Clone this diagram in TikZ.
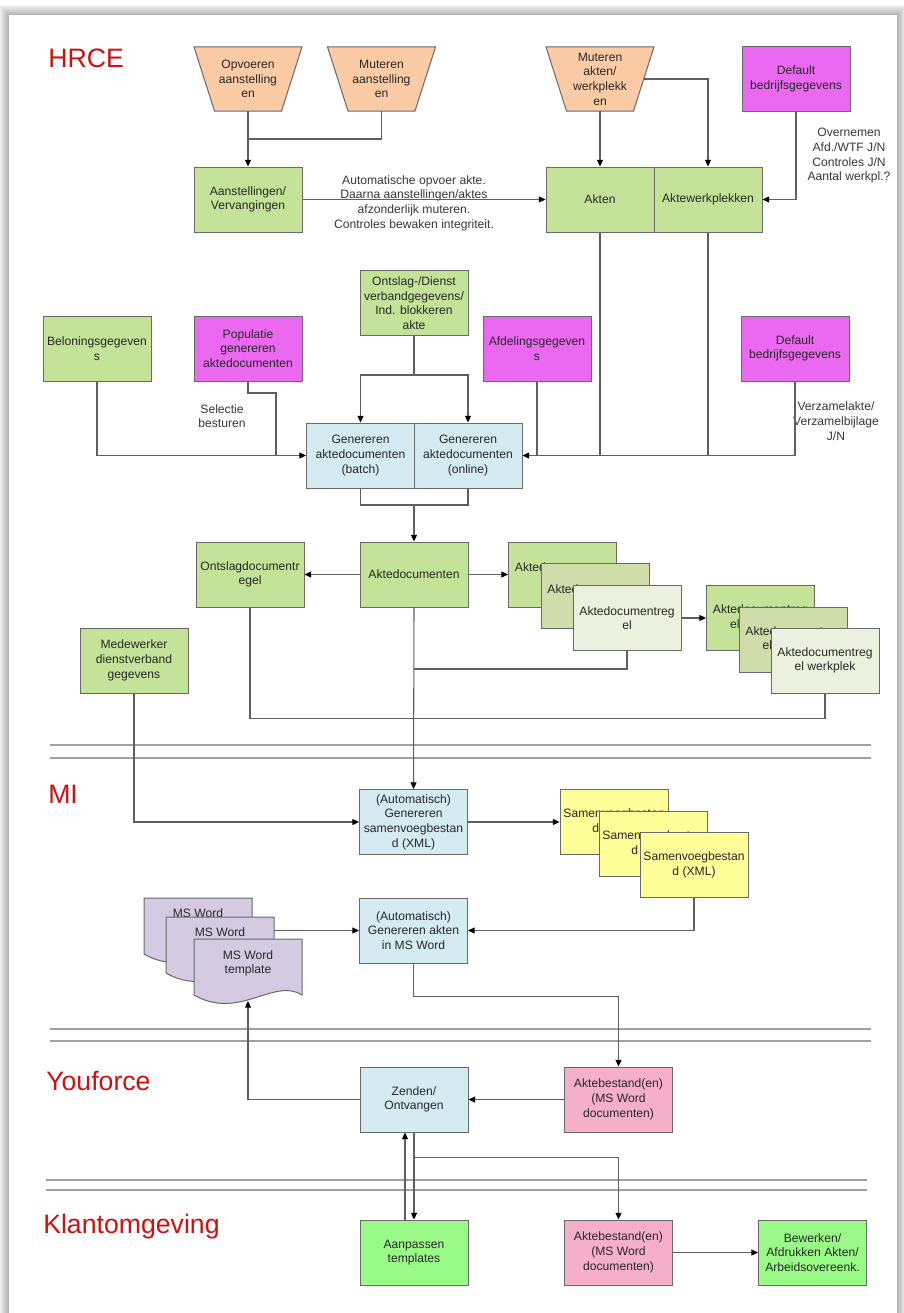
\documentclass[tikz,border=0pt]{standalone}
\usepackage{fontspec}
\setmainfont{Liberation Sans}
\usetikzlibrary{arrows.meta,calc}
\definecolor{cgreen}{RGB}{196,226,152}
\definecolor{cmid}{RGB}{207,221,170}
\definecolor{clight}{RGB}{236,241,223}
\definecolor{cpeach}{RGB}{250,203,165}
\definecolor{cmag}{RGB}{235,105,240}
\definecolor{cblue}{RGB}{212,235,241}
\definecolor{cyel}{RGB}{255,255,153}
\definecolor{clav}{RGB}{212,202,226}
\definecolor{cpink}{RGB}{245,175,200}
\definecolor{cbright}{RGB}{153,250,136}
\definecolor{redc}{RGB}{204,17,17}
\definecolor{bordc}{RGB}{105,105,105}
\definecolor{linec}{RGB}{95,95,95}
\definecolor{sepc}{RGB}{160,160,160}
\definecolor{txtc}{RGB}{40,40,40}
\definecolor{labc}{RGB}{55,55,55}
\newcommand\boxfont{\fontsize{9.1}{11}\selectfont}
\newcommand\trapz[2]{\filldraw[fill=cpeach, draw=bordc, line width=0.75pt] (#1-54,#2-32) -- (#1+54,#2-32) -- (#1+33.5,#2+32) -- (#1-33.5,#2+32) -- cycle;}
\newcommand\docshape[2]{\filldraw[fill=clav, draw=bordc, line width=0.75pt] (#1,#2) -- (#1+108,#2) -- (#1+108,#2+56) .. controls (#1+80,#2+38) and (#1+45,#2+82) .. (#1,#2+56) -- cycle;}
\begin{document}
\begin{tikzpicture}[x=0.75pt,y=-0.75pt,
  box/.style={draw=bordc, line width=0.75pt, minimum width=81pt, minimum height=48.75pt, inner sep=0pt, align=center, font=\boxfont, text=txtc},
  trapn/.style={minimum width=81pt, minimum height=48pt, inner sep=0pt, align=center, font=\boxfont, text=txtc},
  docn/.style={minimum width=81pt, inner sep=0pt, align=center, font=\boxfont, text=txtc},
  conn/.style={draw=linec, line width=0.8pt},
  arr/.style={conn, -{Triangle[length=5pt,width=4.5pt,color=black]}},
  sepline/.style={draw=sepc, line width=1pt},
  elab/.style={font=\boxfont, text=labc, align=center, inner sep=0pt},
  sec/.style={font=\fontsize{20}{24}\selectfont, text=redc, anchor=base west, inner sep=0pt}]
\useasboundingbox (0,0) rectangle (903,1313);
% page and shadow
\fill[white] (0,0) rectangle (903,1313);
\foreach \k in {1,...,10} \fill[black,opacity=0.03] (9-\k,15-\k) rectangle (897+\k,1340);
\fill[white] (9,15) rectangle (897,1340);

% section labels
\node[sec] (hrce) at (48,68) {HRCE};
\node[sec] (mi) at (48,803) {MI};
\node[sec] (yf) at (46,1090) {Youforce};
\node[sec] (kl) at (43,1233) {Klantomgeving};

% separators
\draw[sepline] (50,745) -- (871,745);
\draw[sepline] (50,758) -- (871,758);
\draw[sepline] (50,1029) -- (871,1029);
\draw[sepline] (50,1041) -- (871,1041);
\draw[sepline] (46,1180) -- (867,1180);
\draw[sepline] (46,1190) -- (867,1190);

% top row
\trapz{248}{79}
\node[trapn] (op) at (248,79) {Opvoeren\\aanstelling\\en};
\trapz{381.5}{79}
\node[trapn] (mua) at (381.5,79) {Muteren\\aanstelling\\en};
\trapz{600}{79}
\node[trapn] (mak) at (600,79) {Muteren\\akten/\\werkplekk\\en};
\coordinate (makr) at (643.75,79);
\node[box, fill=cmag] (def1) at (796,79) {Default\\bedrijfsgegevens};

\node[box, fill=cgreen] (aan) at (248,199.5) {Aanstellingen/\\Vervangingen};
\node[box, fill=cgreen] (akt) at (600,199.5) {Akten};
\node[box, fill=cgreen] (awp) at (708,199.5) {Aktewerkplekken};

\node[elab] (lbl1) at (414,203) {Automatische opvoer akte.\\Daarna aanstellingen/aktes\\afzonderlijk muteren.\\Controles bewaken integriteit.};
\node[elab] (lbl2) at (849,156) {Overnemen\\Afd./WTF J/N\\Controles J/N\\Aantal werkpl.?};

\coordinate (j1) at (248,139);
\draw[arr] (op.south) -- (aan.north);
\draw[conn] (mua.south) |- (j1);
\draw[arr] (aan.east) -- (akt.west);
\draw[arr] (mak.south) -- (akt.north);
\draw[arr] (makr) -| (awp.north);
\draw[arr] (def1.south) |- (awp.east);

% second row
\node[box, fill=cgreen] (ond) at (414,303) {Ontslag-/Dienst\\verbandgegevens/\\Ind. blokkeren\\akte};
\node[box, fill=cgreen] (bel) at (97,348.5) {Beloningsgegeven\\s};
\node[box, fill=cmag] (pop) at (248,348.5) {Populatie\\genereren\\aktedocumenten};
\node[box, fill=cmag] (afd) at (537,348.5) {Afdelingsgegeven\\s};
\node[box, fill=cmag] (def2) at (795,348.5) {Default\\bedrijfsgegevens};
\node[box, fill=cblue] (bat) at (360.5,455.5) {Genereren\\aktedocumenten\\(batch)};
\node[box, fill=cblue] (onl) at (468,455.5) {Genereren\\aktedocumenten\\(online)};

\node[elab] (lbl3) at (222,416) {Selectie\\besturen};
\node[elab] (lbl4) at (836,421) {Verzamelakte/\\Verzamelbijlage\\J/N};

\coordinate (j2) at (414,375);
\draw[arr] (ond.south) -- (j2) -| (bat.north);
\draw[arr] (j2) -| (onl.north);
\draw[arr] (bel.south) |- (bat.west);
\coordinate (j3) at (276,393);
\draw[conn] (pop.south) |- (j3) -- (j3 |- bat.west);
\draw[conn] (afd.south) -- (afd.south |- onl.east);
\draw[conn] (akt.south) -- (akt.south |- onl.east);
\draw[conn] (awp.south) -- (awp.south |- onl.east);
\draw[arr] (def2.south) |- (onl.east);

% third row
\node[box, fill=cgreen] (ad) at (414,574.5) {Aktedocumenten};
\node[box, fill=cgreen] (osd) at (250,574.5) {Ontslagdocumentr\\egel};
\node[box, fill=cgreen] (adr1) at (562.5,574.5) {Aktedocumentreg\\el};
\node[box, fill=cmid] (adr2) at (595,596) {Aktedocumentreg\\el};
\node[box, fill=clight] (adr3) at (627,618) {Aktedocumentreg\\el};
\node[box, fill=cgreen] (adw1) at (760.5,618) {Aktedocumentreg\\el werkplek};
\node[box, fill=cmid] (adw2) at (793,639.5) {Aktedocumentreg\\el werkplek};
\node[box, fill=clight] (adw3) at (825,660.5) {Aktedocumentreg\\el werkplek};
\node[box, fill=cgreen] (mdw) at (134,660.5) {Medewerker\\dienstverband\\gegevens};

\coordinate (j4) at (414,505);
\draw[conn] (bat.south) |- (j4);
\draw[conn] (onl.south) |- (j4);
\draw[arr] (j4) -- (ad.north);
\draw[arr] (ad.west) -- (osd.east);
\draw[arr] (ad.east) -- (adr1.west);
\draw[arr] (adr3.east) -- (adw1.west);
\draw[conn] (osd.south) -- ++(0,111) -| (adw3.south);
\draw[conn] (adr3.south) |- (ad.south |- 0,669);

% MI
\node[box, fill=cblue] (sam) at (413.5,822) {(Automatisch)\\Genereren\\samenvoegbestan\\d (XML)};
\node[box, fill=cyel] (xml1) at (614,822) {Samenvoegbestan\\d (XML)};
\node[box, fill=cyel] (xml2) at (653,844) {Samenvoegbestan\\d (XML)};
\node[box, fill=cyel] (xml3) at (694,865) {Samenvoegbestan\\d (XML)};
\node[box, fill=cblue] (gam) at (413.5,930.5) {(Automatisch)\\Genereren akten\\in MS Word};

\docshape{144}{898}
\node[docn] (doc1) at (198,922) {MS Word\\template};
\docshape{166}{917}
\node[docn] (doc2) at (220,941) {MS Word\\template};
\docshape{194}{939}
\node[docn] (doc3) at (248,963.5) {MS Word\\template};
\coordinate (doc3b) at (248,1001);

\draw[arr] (ad.south) -- (sam.north);
\draw[arr] (mdw.south) |- (sam.west);
\draw[arr] (sam.east) -- (xml1.west);
\draw[arr] (xml3.south) |- (gam.east);
\draw[arr] (doc2.east |- gam.west) -- (gam.west);

% Youforce / Klantomgeving
\node[box, fill=cblue] (zen) at (414,1099.5) {Zenden/\\Ontvangen};
\node[box, fill=cpink] (ab1) at (618.5,1099.5) {Aktebestand(en)\\(MS Word\\documenten)};
\node[box, fill=cbright] (apt) at (414,1252.5) {Aanpassen\\templates};
\node[box, fill=cpink] (ab2) at (618.5,1252.5) {Aktebestand(en)\\(MS Word\\documenten)};
\node[box, fill=cbright] (bew) at (812.5,1252.5) {Bewerken/\\Afdrukken Akten/\\Arbeidsovereenk.};

\draw[arr] (gam.south) -- ++(0,33) -| (ab1.north);
\draw[arr] (ab1.west) -- (zen.east);
\draw[arr] (zen.west) -| (doc3b);
\draw[arr] ([xshift=-6.75pt]apt.north) -- ([xshift=-6.75pt]zen.south);
\draw[arr] (zen.south) -- (apt.north);
\draw[arr] ($(zen.south)+(0,25)$) -| (ab2.north);
\draw[arr] (ab2.east) -- (bew.west);
\end{tikzpicture}
\end{document}
